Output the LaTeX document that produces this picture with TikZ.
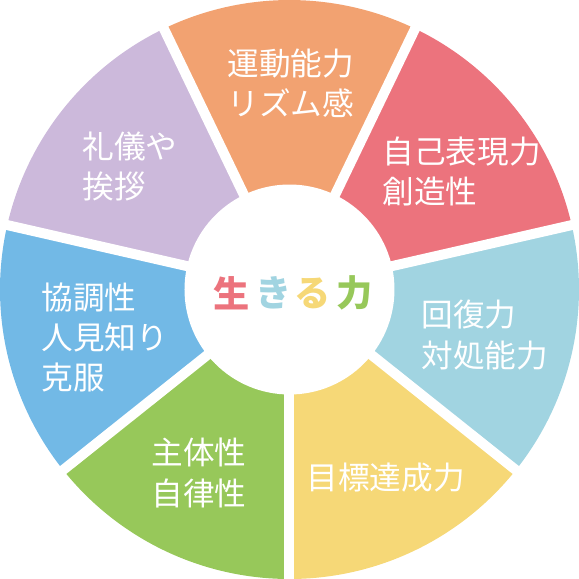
\documentclass[tikz,border=0pt]{standalone}
\usepackage{fontspec}
\setmainfont{Noto Sans CJK JP}
\usetikzlibrary{positioning}
\definecolor{wOrange}{HTML}{F2A271}
\definecolor{wRed}{HTML}{EC737D}
\definecolor{wSky}{HTML}{A1D4E1}
\definecolor{wYellow}{HTML}{F6D877}
\definecolor{wGreen}{HTML}{97C85A}
\definecolor{wBlue}{HTML}{72B9E6}
\definecolor{wPurple}{HTML}{CCB9DB}

\begin{document}
\begin{tikzpicture}[
  sectorlbl/.style={text=white, inner sep=0pt, align=left, font=\fontsize{9}{11.4}\selectfont},
  hubchar/.style={inner sep=0pt, font=\fontsize{10.3}{12}\selectfont\bfseries},
  gapline/.style={draw=white, line width=0.1cm}
]
  \useasboundingbox (-2.895,-2.895) rectangle (2.895,2.895);
  \coordinate (ctr) at (0,0);
  % coloured sectors, clockwise from the top
  \foreach \col [count=\i from 0] in {wOrange,wRed,wSky,wYellow,wGreen,wBlue,wPurple} {
    \pgfmathsetmacro\mid{90-\i*360/7}
    \fill[\col] (ctr) -- ++(\mid-25.714:2.895)
      arc[start angle=\mid-25.714, end angle=\mid+25.714, radius=2.895] -- cycle;
  }
  % white gaps and hub
  \foreach \i in {0,...,6}
    \draw[gapline] (ctr) -- ++(115.714-\i*360/7:3.0);
  \node[circle, fill=white, minimum size=2.1cm, inner sep=0pt] (hub) at (ctr) {};

  \node[sectorlbl, align=center] (undo) at (0.015,2.06) {運動能力\\リズム感};
  \node[sectorlbl, anchor=west] (hyogen) at (0.925,1.18) {自己表現力\\創造性};
  \node[sectorlbl, anchor=west] (kaifuku) at (1.315,-0.455) {回復力\\対処能力};
  \node[sectorlbl, anchor=west] (mokuhyo) at (0.165,-1.885) {目標達成力};
  \node[sectorlbl, anchor=west] (shutai) at (-1.385,-1.835) {主体性\\自律性};
  \node[sectorlbl, anchor=west] (kyocho) at (-2.485,-0.48) {協調性\\人見知り\\克服};
  \node[sectorlbl, anchor=west] (reigi) at (-2.075,1.235) {礼儀や\\挨拶};

  \node[hubchar, text=wRed] (c1) at (-0.575,-0.035) {生};
  \node[hubchar, text=wSky] (c2) at (-0.155,-0.035) {き};
  \node[hubchar, text=wYellow] (c3) at (0.235,-0.035) {る};
  \node[hubchar, text=wGreen] (c4) at (0.655,-0.035) {力};
\end{tikzpicture}
\end{document}
